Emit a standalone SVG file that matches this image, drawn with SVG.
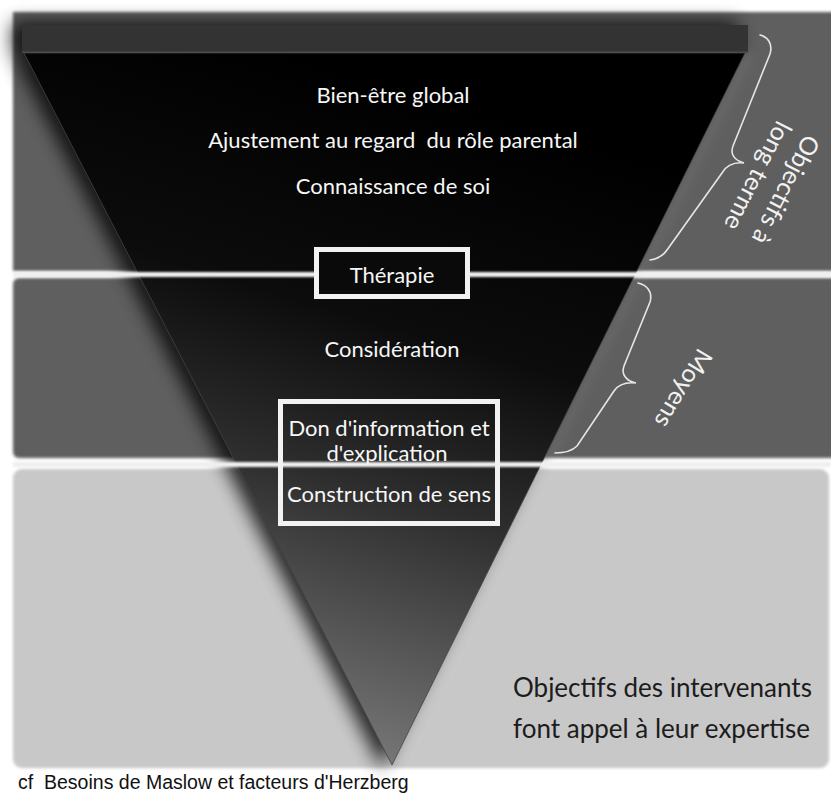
<svg xmlns="http://www.w3.org/2000/svg" width="831" height="795" viewBox="0 0 831 795">
<defs>
<style>
.w{fill:#f7f7f7;font-family:Lato,"Open Sans",sans-serif;font-size:22px;text-anchor:middle}
.rot{fill:#f2f2f2;font-family:Lato,"Open Sans",sans-serif;font-size:25px;text-anchor:middle}
.dk{fill:#1c1c1c;font-family:Lato,"Open Sans",sans-serif;font-size:26px}
.cap{fill:#111;font-family:"Liberation Sans",Arial,sans-serif;font-size:19.5px}
.brace{fill:none;stroke:#e6e6e6;stroke-width:1.6;stroke-linecap:round}
.box{stroke:#f2f2f2;stroke-width:5}
</style>
<linearGradient id="tri" gradientUnits="userSpaceOnUse" x1="520" y1="120" x2="330" y2="760">
<stop offset="0" stop-color="#000"/>
<stop offset="0.35" stop-color="#0c0c0c"/>
<stop offset="0.6" stop-color="#2e2e2e"/>
<stop offset="1" stop-color="#7a7a7a"/>
</linearGradient>
<filter id="soft" x="-5%" y="-5%" width="110%" height="110%"><feGaussianBlur stdDeviation="1.4"/></filter>
<filter id="sh" x="-20%" y="-20%" width="140%" height="140%"><feGaussianBlur stdDeviation="9"/></filter>
<filter id="gl" x="-20%" y="-20%" width="140%" height="140%"><feGaussianBlur stdDeviation="6"/></filter>
<filter id="ln" x="-5%" y="-100%" width="110%" height="300%"><feGaussianBlur stdDeviation="0.8"/></filter>
</defs>

<g id="background" filter="url(#soft)">
<rect x="13" y="12" width="830" height="259" fill="#5e5e5e"/>
<rect x="13" y="278" width="830" height="180" rx="6" fill="#5e5e5e"/>
<rect x="13" y="469" width="816" height="299" rx="9" fill="#c8c8c8"/>
</g>

<g id="pyramid">
<g filter="url(#sh)" opacity="0.8">
<polygon points="14,56 735,56 382,769" fill="#000"/>
<rect x="12" y="22" width="726" height="32" fill="#000"/>
</g>
<polygon points="32,53 753,53 400,765" fill="#fff" opacity="0.1" filter="url(#gl)"/>
<polygon points="24,53 745,53 392,765" fill="url(#tri)" stroke="#444" stroke-width="0.8"/>
<rect x="22" y="25" width="726" height="28" fill="#333"/>
<rect x="22" y="51.5" width="726" height="1.5" fill="#4c4c4c"/>
</g>

<g id="connectors">
<rect x="13" y="272" width="818" height="5" fill="#efefef" filter="url(#ln)"/>
<rect x="13" y="462" width="818" height="5" fill="#efefef" filter="url(#ln)"/>
<path class="brace" d="M760,35 C768,37 773,44 770,54 L733,146 C730,154 734,160 744,163 C734,162 726,166 722,173 L667,250 C663,256 657,259 650,260"/>
<path class="brace" d="M638,283 C647,285 653,292 650,302 L624,366 C621,374 626,381 636,383 C626,382 618,385 614,391 L577,446 C572,451 565,453 555,453"/>
</g>

<g id="top-goals">
<text class="w" x="393" y="103">Bien-être global</text>
<text class="w" x="393" y="148" xml:space="preserve">Ajustement au regard  du rôle parental</text>
<text class="w" x="393" y="194">Connaissance de soi</text>
</g>

<g id="therapie">
<rect class="box" x="316.5" y="249.5" width="151" height="47" fill="#0a0a0a"/>
<text class="w" x="392" y="283">Thérapie</text>
</g>

<g id="consideration">
<text class="w" x="392" y="357">Considération</text>
</g>

<g id="information">
<rect class="box" x="280.5" y="401.5" width="217" height="122" fill="none"/>
<text class="w" x="389" y="436">Don d'information et</text>
<text class="w" x="387" y="461">d'explication</text>
<text class="w" x="389" y="502">Construction de sens</text>
</g>

<g id="label-long-terme">
<text class="rot" transform="translate(778,186) rotate(117)"><tspan x="0" y="0">Objectifs à</tspan><tspan x="0" y="31">long terme</tspan></text>
</g>

<g id="label-moyens">
<text class="rot" transform="translate(676,384) rotate(121)">Moyens</text>
</g>

<g id="label-intervenants">
<text class="dk" x="513" y="697">Objectifs des intervenants</text>
<text class="dk" x="513" y="738">font appel à leur expertise</text>
</g>

<g id="caption">
<text class="cap" x="18" y="789" xml:space="preserve">cf  Besoins de Maslow et facteurs d'Herzberg</text>
</g>
</svg>
